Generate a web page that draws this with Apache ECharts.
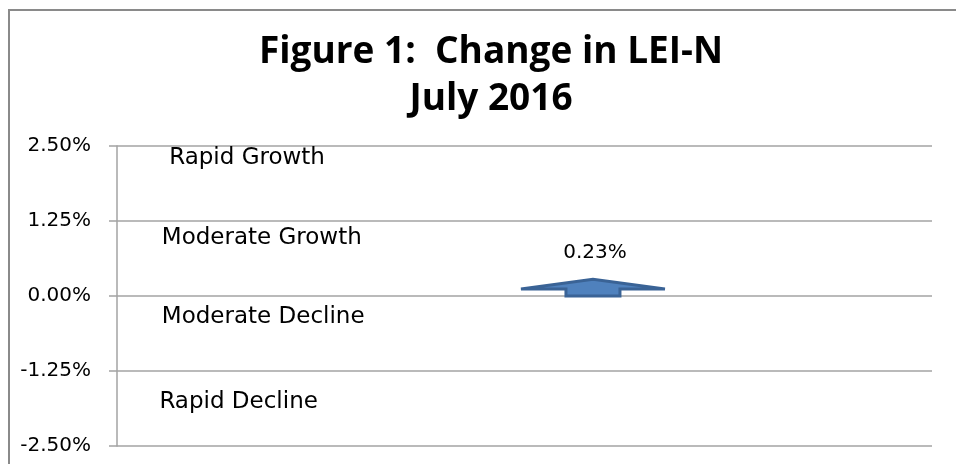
<!DOCTYPE html>
<html>
<head>
<meta charset="utf-8">
<script src="https://cdn.jsdelivr.net/npm/echarts@6/dist/echarts.min.js"></script>
<style>
  html, body { margin: 0; padding: 0; background: #fff; }
  #lei-chart { width: 956px; height: 464px; }
</style>
</head>
<body>
<div id="lei-chart"></div>
<script>
// data
var month = ['July 2016'];
var changeValues = [0.23];      // % change in LEI-N
var arrowX = [58.4];            // position of the arrow along the hidden x axis (0-100)
var yTicks = [-2.5, -1.25, 0, 1.25, 2.5];
var zoneNames = ['Rapid Growth', 'Moderate Growth', 'Moderate Decline', 'Rapid Decline'];
var zoneY = [2.3, 0.97, -0.35, -1.77];
var zoneX = [6.4, 5.5, 5.5, 5.2];

var chartDom = document.getElementById('lei-chart');
var leiChart = echarts.init(chartDom, null, { renderer: 'canvas' });
var option;

var zoneData = zoneNames.map(function (name, i) {
  return { name: name, value: [zoneX[i], zoneY[i]] };
});

var arrowData = changeValues.map(function (v, i) {
  return [arrowX[i], v];
});

option = {
  backgroundColor: '#fff',
  animation: false,
  title: {
    text: 'Figure 1:  Change in LEI-N\nJuly 2016',
    left: 486,
    top: 24,
    textAlign: 'center',
    textStyle: {
      fontFamily: 'Open Sans',
      fontWeight: 'bold',
      fontSize: 37,
      lineHeight: 47,
      color: '#000'
    }
  },
  graphic: [
    {
      // chart frame (only top and left edges visible)
      type: 'rect',
      shape: { x: 9, y: 10, width: 1000, height: 600 },
      style: { fill: 'none', stroke: '#8a8a8a', lineWidth: 2 },
      silent: true
    }
  ],
  grid: {
    left: 117,
    right: 24,
    top: 146,
    bottom: 18
  },
  xAxis: {
    type: 'value',
    min: 0,
    max: 100,
    show: false
  },
  yAxis: {
    type: 'value',
    min: yTicks[0],
    max: yTicks[yTicks.length - 1],
    interval: 1.25,
    axisLine: { show: true, lineStyle: { color: '#a3a3a3', width: 1.5 } },
    axisTick: { show: true, length: 8, lineStyle: { color: '#a3a3a3', width: 1.5 } },
    splitLine: { show: true, lineStyle: { color: '#a3a3a3', width: 1.5 } },
    axisLabel: {
      margin: 26,
      fontFamily: 'DejaVu Sans',
      fontSize: 20,
      color: '#000',
      formatter: function (v) { return v.toFixed(2) + '%'; }
    }
  },
  series: [
    {
      name: 'Zones',
      type: 'scatter',
      symbolSize: 0,
      silent: true,
      itemStyle: { opacity: 1 },
      data: zoneData,
      label: {
        show: true,
        position: [0, 0],
        align: 'left',
        verticalAlign: 'middle',
        formatter: '{b}',
        fontFamily: 'DejaVu Sans',
        fontSize: 23,
        color: '#000'
      }
    },
    {
      name: month[0],
      type: 'custom',
      silent: true,
      data: arrowData,
      renderItem: function (params, api) {
        var base = api.coord([api.value(0), 0]);
        var top = api.coord([api.value(0), api.value(1)]);
        var cx = base[0];
        var y0 = base[1];
        var hb = y0 - 7;
        var tip = top[1] - 3;
        var sw = 27;
        var hw = 72;
        return {
          type: 'group',
          children: [
            {
              type: 'polygon',
              shape: {
                points: [
                  [cx - sw, y0], [cx - sw, hb], [cx - hw, hb], [cx, tip],
                  [cx + hw, hb], [cx + sw, hb], [cx + sw, y0]
                ]
              },
              style: { fill: '#4F81BD', stroke: '#3A6396', lineWidth: 3, lineJoin: 'miter' }
            },
            {
              type: 'text',
              x: cx + 2,
              y: tip - 26,
              style: {
                text: api.value(1).toFixed(2) + '%',
                align: 'center',
                verticalAlign: 'middle',
                fontFamily: 'DejaVu Sans',
                fontSize: 20,
                fill: '#000'
              }
            }
          ]
        };
      }
    }
  ]
};

option && leiChart.setOption(option);
</script>
</body>
</html>
